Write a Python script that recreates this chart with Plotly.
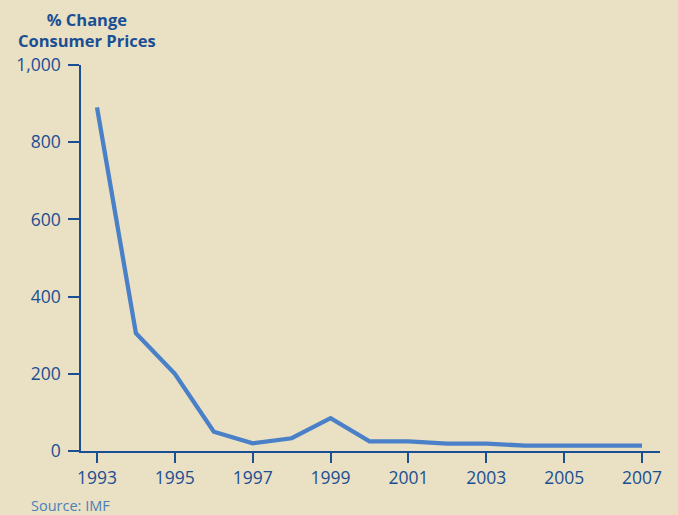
import plotly.graph_objects as go

years = list(range(1993, 2008))
cpi_change = [890, 305, 200, 50, 20, 33, 85, 25, 25, 19, 19, 14, 14, 14, 14]
x_ticks = [1993, 1995, 1997, 1999, 2001, 2003, 2005, 2007]
y_ticks = [0, 200, 400, 600, 800, 1000]
y_labels = ["0", "200", "400", "600", "800", "1,000"]

bg = "#EAE0C4"
dark = "#1A4F93"
line_c = "#4A80C8"
font = "Open Sans"

W, H = 678, 515
L, R, T, B = 81, 18, 65, 64
pw = W - L - R
ph = H - T - B

fig = go.Figure()
fig.add_trace(go.Scatter(x=years, y=cpi_change, mode="lines",
                         line=dict(color=line_c, width=4.3), hoverinfo="x+y"))

fig.update_layout(
    width=W, height=H,
    paper_bgcolor=bg, plot_bgcolor=bg,
    margin=dict(l=L, r=R, t=T, b=B),
    showlegend=False,
    font=dict(family=font, color=dark, size=17.5),
    xaxis=dict(range=[1992.589, 2007.462], tickvals=x_ticks, showline=True,
               linecolor=dark, linewidth=1.5, ticks="outside", ticklen=10,
               tickcolor=dark, tickwidth=1.5, showgrid=False, zeroline=False,
               tickfont=dict(size=17.5, color=dark, family=font)),
    yaxis=dict(range=[0, 1000], tickvals=y_ticks, ticktext=y_labels, showline=True,
               linecolor=dark, linewidth=1.5, ticks="outside", ticklen=11,
               tickcolor=dark, tickwidth=1.5, showgrid=False, zeroline=False,
               ticklabelstandoff=4,
               tickfont=dict(size=17.5, color=dark, family=font)),
    annotations=[
        dict(text="<b>% Change<br>Consumer Prices</b>",
             x=(87 - L) / pw, y=1.0 + 11 / ph,
             xref="paper", yref="paper", xanchor="center", yanchor="bottom",
             showarrow=False, align="center",
             font=dict(size=16.5, color=dark, family=font)),
        dict(text="Source: IMF", x=(29 - L) / pw, y=-(505 - (H - B)) / ph,
             xref="paper", yref="paper", xanchor="left", yanchor="middle",
             showarrow=False, font=dict(size=14.5, color="#4A7FB8", family=font)),
    ],
)

fig.write_html("out.html", config={"displayModeBar": False},
               post_script="document.body.style.margin='0';document.body.style.background='%s';" % bg)
